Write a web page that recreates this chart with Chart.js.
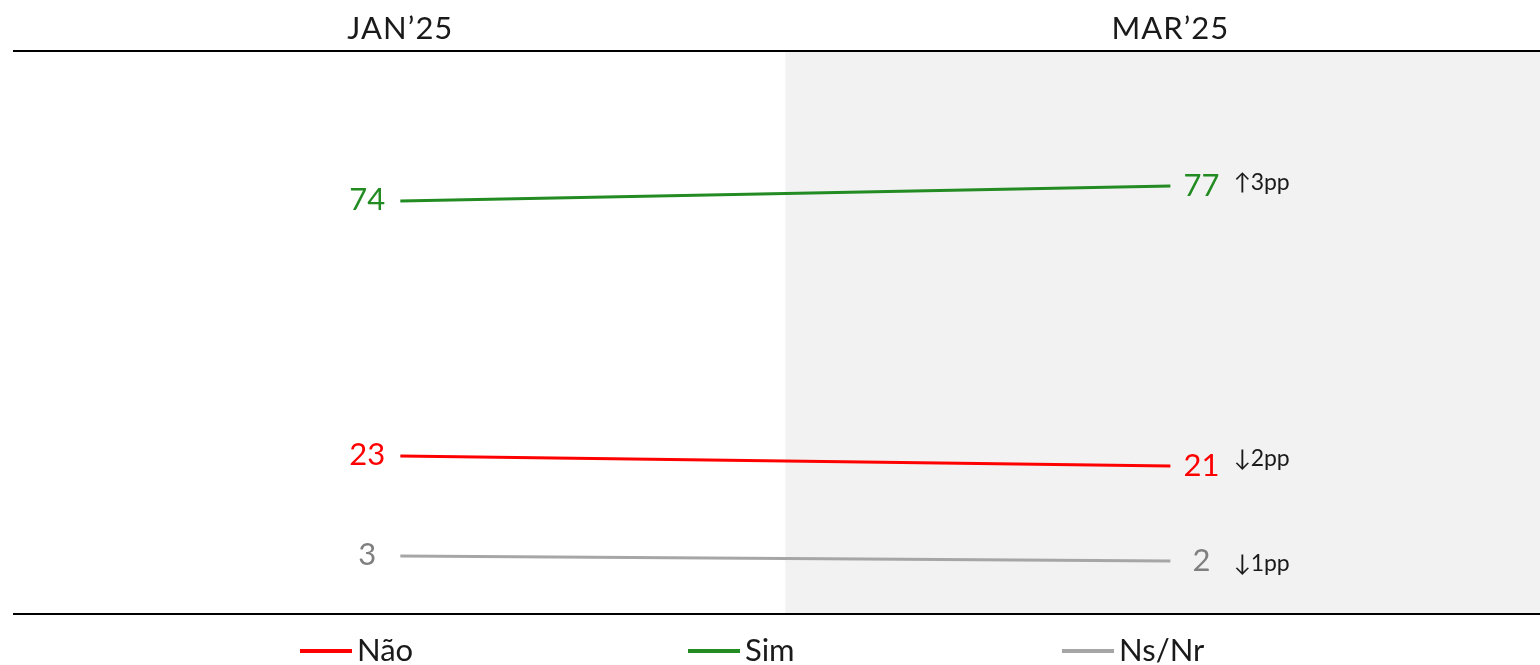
<!DOCTYPE html>
<html>
<head>
<meta charset="utf-8">
<script src="https://cdn.jsdelivr.net/npm/chart.js@4"></script>
<style>
  html, body { margin: 0; padding: 0; background: #fff; }
  #wrap { width: 1540px; height: 665px; }
</style>
</head>
<body>
<div id="wrap"><canvas id="chart" width="1540" height="665"></canvas></div>
<script>
const periods = ['JAN\u201925', 'MAR\u201925'];
const seriesNames = ['Não', 'Sim', 'Ns/Nr'];
const naoValues = [23, 21];
const simValues = [74, 77];
const nsnrValues = [3, 2];
const deltas = ['\u21932pp', '\u21913pp', '\u21931pp'];
const lineColors = ['#ff0000', '#228b22', '#a6a6a6'];
const labelColors = ['#ff0000', '#228b22', '#7f7f7f'];

const FONT = 'Lato, "Open Sans", sans-serif';

const toPoints = vals => vals.map((v, i) => ({ x: i, y: v }));

const decor = {
    id: 'decor',
    beforeDatasetsDraw(chart) {
        const { ctx, chartArea: a, scales: { x } } = chart;
        const mid = x.getPixelForValue(0.5);
        ctx.save();
        ctx.fillStyle = '#f2f2f2';
        ctx.fillRect(mid, a.top, a.right - mid, a.bottom - a.top);
        ctx.strokeStyle = '#000';
        ctx.lineWidth = 2;
        ctx.beginPath();
        ctx.moveTo(a.left, a.top - 1); ctx.lineTo(a.right, a.top - 1);
        ctx.moveTo(a.left, a.bottom + 1); ctx.lineTo(a.right, a.bottom + 1);
        ctx.stroke();
        // period headers
        ctx.fillStyle = '#1a1a1a';
        ctx.font = '31px ' + FONT;
        ctx.letterSpacing = '1px';
        ctx.textAlign = 'center';
        ctx.textBaseline = 'middle';
        periods.forEach((p, i) => ctx.fillText(p, x.getPixelForValue(i), 29));
        ctx.restore();
    },
    afterDatasetsDraw(chart) {
        const { ctx, scales: { x, y } } = chart;
        const deltaShift = [-7, -3, 3];
        ctx.save();
        ctx.textBaseline = 'middle';
        chart.data.datasets.forEach((ds, k) => {
            const pts = ds.data;
            ctx.fillStyle = labelColors[k];
            ctx.font = '31px ' + FONT;
            ctx.textAlign = 'center';
            ctx.fillText(String(pts[0].y), x.getPixelForValue(0) - 33, y.getPixelForValue(pts[0].y) - 1);
            ctx.fillText(String(pts[1].y), x.getPixelForValue(1) + 31, y.getPixelForValue(pts[1].y));
            ctx.fillStyle = '#1a1a1a';
            ctx.font = '23px ' + FONT;
            ctx.textAlign = 'left';
            ctx.fillText(deltas[k], x.getPixelForValue(1) + 63, y.getPixelForValue(pts[1].y) + deltaShift[k]);
        });
        // legend
        ctx.font = '31px ' + FONT;
        const legendX = [300, 688, 1062];
        const lineW = 52, txtGap = 5, ly = 651;
        seriesNames.forEach((n, k) => {
            const lx = legendX[k];
            ctx.strokeStyle = lineColors[k];
            ctx.lineWidth = 4;
            ctx.beginPath();
            ctx.moveTo(lx, ly); ctx.lineTo(lx + lineW, ly);
            ctx.stroke();
            ctx.fillStyle = '#1a1a1a';
            ctx.textAlign = 'left';
            ctx.fillText(n, lx + lineW + txtGap, ly);
        });
        ctx.restore();
    }
};

const valueSets = [naoValues, simValues, nsnrValues];

new Chart(document.getElementById('chart'), {
    type: 'line',
    data: {
        datasets: seriesNames.map((name, k) => ({
            label: name,
            data: toPoints(valueSets[k]),
            borderColor: lineColors[k],
            borderWidth: 3,
            pointRadius: 0,
            tension: 0
        }))
    },
    options: {
        responsive: false,
        animation: false,
        layout: { padding: { top: 52, bottom: 52, left: 13, right: 0 } },
        plugins: { legend: { display: false }, tooltip: { enabled: false } },
        scales: {
            x: { type: 'linear', min: -0.503, max: 1.48, display: false },
            y: { min: -8.4, max: 103.8, display: false }
        }
    },
    plugins: [decor]
});
</script>
</body>
</html>
